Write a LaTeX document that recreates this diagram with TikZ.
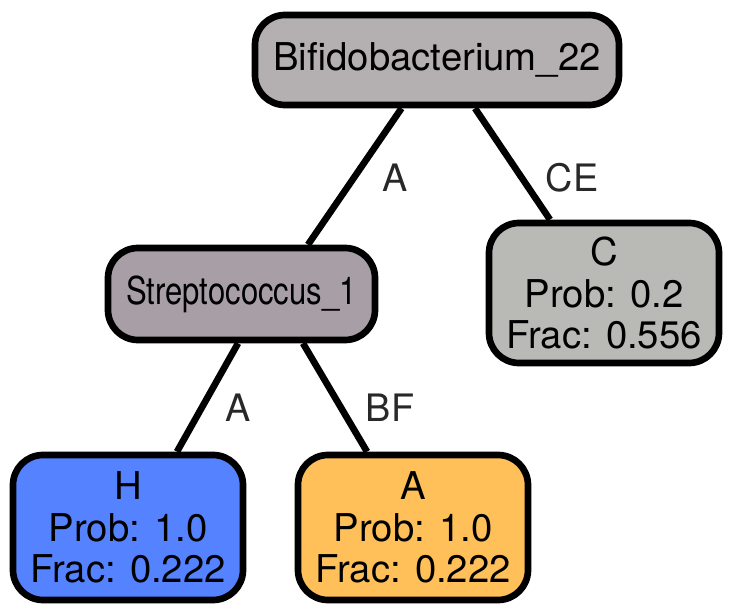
\documentclass[tikz,border=0pt]{standalone}
\usepackage{fontspec}
\setmainfont{TeX Gyre Heros}
\usepackage{graphicx}
\usepackage{tikz}
\usetikzlibrary{positioning}
\usepackage{xcolor}
\definecolor{rootgray}{RGB}{180,176,177}
\definecolor{streppurple}{RGB}{167,158,166}
\definecolor{cgray}{RGB}{185,186,181}
\definecolor{hblue}{RGB}{85,130,255}
\definecolor{aorange}{RGB}{255,192,90}
\definecolor{lblgray}{RGB}{40,40,40}

\begin{document}
\begin{tikzpicture}[
    box/.style={draw, line width=3.8pt, rounded corners=0.6cm, fill=#1, inner sep=0pt, align=center, font=\fontsize{21.8}{23.6}\selectfont},
    link/.style={line width=3.8pt},
    lbl/.style={font=\fontsize{21.5}{23}\selectfont, text=lblgray}
]
\useasboundingbox (0,0) rectangle (14.66,12.26);
\node[box=rootgray, minimum width=7.28cm, minimum height=1.8cm] (root) at (8.74,11.06) {Bifidobacterium\_22};
\node[box=streppurple, minimum width=5.34cm, minimum height=1.84cm] (strep) at (4.83,6.38) {\scalebox{0.81}[1]{Streptococcus\_1}};
\node[box=cgray, minimum width=4.6cm, minimum height=2.8cm] (leafc) at (12.08,6.40) {C\\Prob: 0.2\\Frac: 0.556};
\node[box=hblue, minimum width=4.6cm, minimum height=2.9cm] (leafh) at (2.56,1.71) {H\\Prob: 1.0\\Frac: 0.222};
\node[box=aorange, minimum width=4.6cm, minimum height=2.9cm] (leafa) at (8.26,1.71) {A\\Prob: 1.0\\Frac: 0.222};

\draw[link] ([xshift=-0.71cm]root.south) -- ([xshift=1.33cm]strep.north);
\draw[link] ([xshift=0.76cm]root.south) -- ([xshift=-1.08cm]leafc.north);
\draw[link] ([xshift=-0.07cm]strep.south) -- ([xshift=0.98cm]leafh.north);
\draw[link] ([xshift=1.23cm]strep.south) -- ([xshift=-0.92cm]leafa.north);

\node[lbl] (lblrs) at (7.9,8.7) {A};
\node[lbl] (lblrc) at (11.44,8.7) {CE};
\node[lbl] (lblsh) at (4.76,4.1) {A};
\node[lbl] (lblsa) at (7.8,4.1) {BF};
\end{tikzpicture}
\end{document}
